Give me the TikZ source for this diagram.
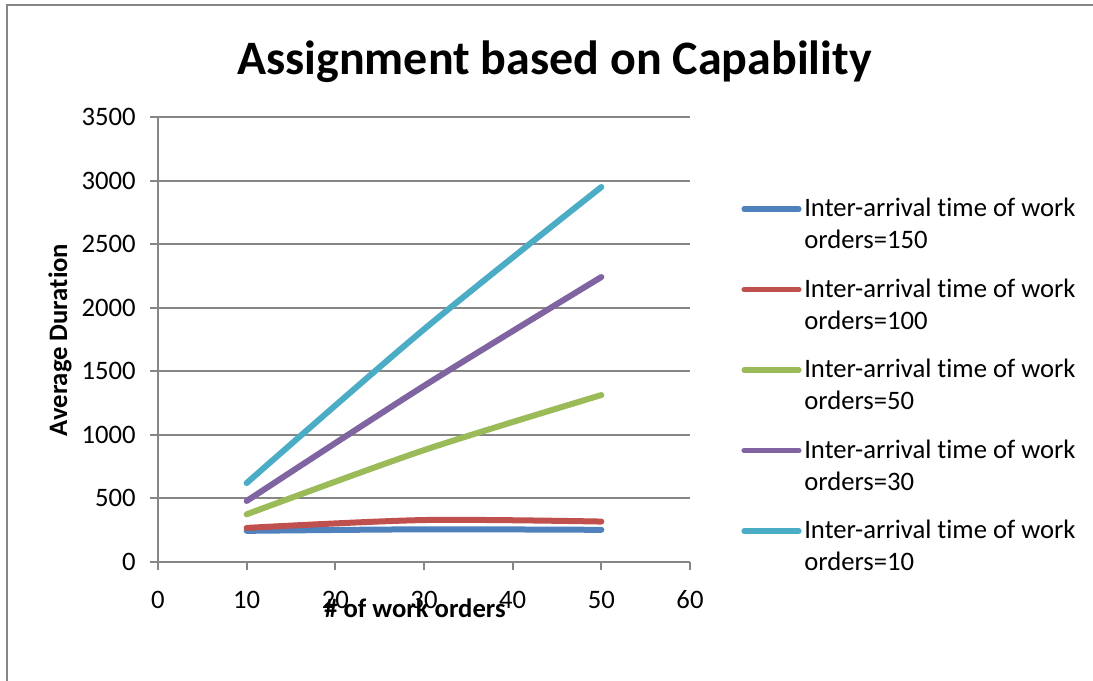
\documentclass[tikz,border=0pt]{standalone}
\usepackage{fontspec}
\setmainfont{Carlito}[Ligatures={NoCommon,NoContextual,NoRare}]
\usepackage{tikz}
\usetikzlibrary{positioning}

\definecolor{axisgray}{HTML}{868686}
\definecolor{serA}{HTML}{4F81BD}
\definecolor{serB}{HTML}{C0504D}
\definecolor{serC}{HTML}{9BBB59}
\definecolor{serD}{HTML}{8064A2}
\definecolor{serE}{HTML}{4BACC6}

\tikzset{
  gridline/.style={draw=axisgray, line width=1.5pt},
  series/.style={line width=4.5pt, line cap=round, line join=round},
  keyline/.style={line width=3.8pt, line cap=round},
  ticklab/.style={inner sep=0pt, font=\fontsize{20}{24}\selectfont},
  axtitle/.style={inner sep=0pt, font=\fontsize{20}{24}\selectfont\bfseries},
  legtext/.style={inner sep=0pt, anchor=west, align=left, font=\fontsize{20}{24}\selectfont}
}

\begin{document}
\begin{tikzpicture}[x=0.75pt, y=-0.75pt]
        \useasboundingbox[fill=white] (0,0) rectangle (1093,681);
        % chart frame (cut at right and bottom)
        \draw[draw=axisgray, line width=1.5pt] (7,681) -- (7,5) -- (1093,5);

        \node[inner sep=0pt, anchor=base, font=\fontsize{36}{40}\selectfont\bfseries] (title) at (554.5,75) {Assignment based on Capability};

        \begin{scope}[shift={(158,562)}, x=6.65pt, y=0.09536pt]
            \foreach \v in {500,1000,...,3500}
                \draw[gridline] (0,\v) -- (60,\v);
            \foreach \v in {0,500,...,3500} {
                \draw[gridline] (0,\v) -- ++(-6pt,0);
                \node[ticklab, anchor=east] (yl\v) at ([xshift=-16.5pt]0,\v) {\v};
            }
            \foreach \v in {0,10,...,60} {
                \draw[gridline] (\v,0) -- ++(0,-6pt);
                \node[ticklab, anchor=base] (xl\v) at ([yshift=-35pt]\v,0) {\v};
            }
            \draw[gridline] (0,3500) -- (0,0) -- (60,0);

            \draw[series, serA] plot[smooth] coordinates {(10,245) (30,257) (50,253)};
            \draw[series, serB] plot[smooth] coordinates {(10,268) (30,330) (50,318)};
            \draw[series, serC] plot[smooth] coordinates {(10,375) (30,880) (50,1313)};
            \draw[series, serD] plot[smooth] coordinates {(10,480) (30,1385) (50,2241)};
            \draw[series, serE] plot[smooth] coordinates {(10,621) (30,1830) (50,2949)};
        \end{scope}

        \node[axtitle, anchor=base] (xtitle) at (415,617) {\# of work orders};
        \node[axtitle, rotate=90] (ytitle) at (60,340) {Average Duration};

        % legend
        \foreach \i/\c/\v in {1/serA/150, 2/serB/100, 3/serC/50, 4/serD/30, 5/serE/10} {
            \pgfmathsetmacro\ly{209+(\i-1)*80.5}
            \coordinate (k\i a) at (744,\ly);
            \coordinate (k\i b) at (799,\ly);
            \draw[keyline, \c] (k\i a) -- (k\i b);
            \node[legtext] (leg\i) at (804,\ly+14.5) {Inter-arrival time of work\\orders=\v};
        }
\end{tikzpicture}
\end{document}
